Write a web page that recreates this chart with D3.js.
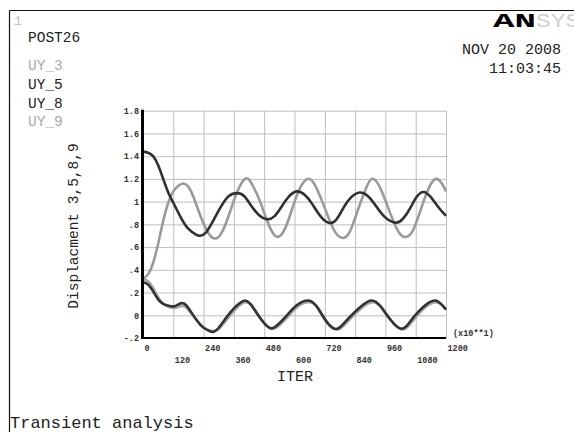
<!DOCTYPE html>
<html>
<head>
<meta charset="utf-8">
<script src="https://cdn.jsdelivr.net/npm/d3@7"></script>
<style>
  html, body { margin: 0; padding: 0; background: #fff; }
  svg { display: block; }
  text { font-family: "Liberation Mono", "Courier New", monospace; }
</style>
</head>
<body>
<svg id="chart" width="574" height="432"></svg>
<script>
// ---- data ----
const xTicks = [0, 120, 240, 360, 480, 600, 720, 840, 960, 1080, 1200];
const yTicks = [-0.2, 0, 0.2, 0.4, 0.6, 0.8, 1.0, 1.2, 1.4, 1.6, 1.8];
const yTickLabels = ["-.2", "0", ".2", ".4", ".6", ".8", "1", "1.2", "1.4", "1.6", "1.8"];
const legendNames = ["UY_3", "UY_5", "UY_8", "UY_9"];

// [iteration, displacement]
const uy3 = [[0,0.32],[20,0.36],[40,0.46],[60,0.63],[80,0.83],[100,0.99],[120,1.09],[140,1.14],[160,1.16],[180,1.13],[200,1.04],[230,0.86],[260,0.72],[285,0.675],[310,0.72],[340,0.88],[370,1.07],[404,1.20],[430,1.16],[460,1.02],[490,0.84],[510,0.74],[533,0.69],[563,0.765],[592,0.945],[622,1.12],[652,1.20],[680,1.15],[710,1.00],[740,0.83],[765,0.72],[793,0.68],[820,0.74],[850,0.92],[880,1.10],[906,1.20],[935,1.14],[965,0.98],[995,0.81],[1020,0.71],[1044,0.69],[1070,0.75],[1100,0.93],[1130,1.11],[1160,1.20],[1185,1.155],[1200,1.09]];
const uy5 = [[0,1.44],[20,1.43],[40,1.40],[60,1.32],[80,1.20],[100,1.08],[120,0.99],[150,0.86],[180,0.76],[210,0.71],[226,0.70],[250,0.73],[280,0.84],[310,0.96],[340,1.05],[371,1.075],[400,1.05],[430,0.96],[460,0.88],[490,0.845],[520,0.87],[550,0.96],[580,1.05],[609,1.09],[640,1.06],[670,0.98],[700,0.88],[733,0.815],[765,0.84],[795,0.95],[825,1.04],[859,1.08],[890,1.05],[920,0.97],[955,0.87],[998,0.815],[1030,0.85],[1060,0.95],[1080,1.03],[1109,1.085],[1140,1.04],[1170,0.95],[1200,0.875]];
const uy8 = [[0,0.29],[20,0.27],[40,0.21],[60,0.14],[80,0.10],[100,0.085],[125,0.08],[150,0.105],[170,0.09],[190,0.03],[215,-0.05],[240,-0.11],[265,-0.14],[280,-0.145],[300,-0.11],[330,-0.02],[360,0.06],[385,0.11],[404,0.13],[425,0.10],[450,0.02],[480,-0.07],[510,-0.115],[540,-0.07],[570,0.00],[610,0.09],[655,0.13],[690,0.07],[728,-0.06],[767,-0.12],[800,-0.06],[835,0.02],[870,0.09],[906,0.13],[940,0.08],[980,-0.04],[1025,-0.12],[1060,-0.05],[1090,0.03],[1125,0.10],[1157,0.13],[1180,0.10],[1200,0.05]];
const uy9 = [[0,0.32],[20,0.30],[40,0.24],[60,0.16],[80,0.10],[100,0.075],[125,0.065],[150,0.08],[170,0.07],[190,0.02],[215,-0.05],[240,-0.11],[265,-0.135],[285,-0.14],[305,-0.11],[335,-0.03],[365,0.05],[390,0.10],[408,0.115],[430,0.09],[455,0.01],[485,-0.08],[515,-0.12],[545,-0.08],[575,-0.01],[615,0.08],[660,0.115],[695,0.06],[733,-0.07],[772,-0.125],[805,-0.07],[840,0.01],[875,0.08],[910,0.115],[945,0.07],[985,-0.05],[1030,-0.125],[1065,-0.06],[1095,0.02],[1130,0.09],[1160,0.115],[1185,0.09],[1200,0.05]];

// ---- drawing ----
const svg = d3.select("#chart");
const L = 143, R = 446, T = 110.7, B = 338;
const x = d3.scaleLinear().domain([0, 1200]).range([L, R]);
const y = d3.scaleLinear().domain([-0.2, 1.8]).range([B, T]);

// frame
svg.append("line").attr("x1", 9.5).attr("y1", 10.5).attr("x2", 574).attr("y2", 10.5).attr("stroke", "#111").attr("stroke-width", 1.2);
svg.append("line").attr("x1", 9.5).attr("y1", 10.5).attr("x2", 9.5).attr("y2", 432).attr("stroke", "#111").attr("stroke-width", 1.2);

// grid
const gx = svg.append("g").attr("transform", `translate(0,${B})`)
  .call(d3.axisBottom(x).tickValues(xTicks).tickSize(-(B - T)).tickFormat(""));
gx.select(".domain").remove();
gx.selectAll("line").attr("stroke", "#bdbdbd").attr("stroke-width", 1);
const gy = svg.append("g").attr("transform", `translate(${L},0)`)
  .call(d3.axisLeft(y).tickValues(yTicks).tickSize(-(R - L)).tickFormat(""));
gy.select(".domain").remove();
gy.selectAll("line").attr("stroke", "#bdbdbd").attr("stroke-width", 1);

// axes with labels
const ax = svg.append("g").attr("transform", `translate(0,${B})`)
  .call(d3.axisBottom(x).tickValues(xTicks).tickSize(0).tickPadding(0).tickFormat(d3.format("d")));
ax.select(".domain").remove();
ax.selectAll("text")
  .attr("text-anchor", "start")
  .attr("dx", 1)
  .attr("y", (d, i) => i % 2 === 0 ? 13 : 25)
  .attr("dy", 0)
  .attr("font-family", "Liberation Mono, monospace")
  .attr("font-size", 8.5).attr("font-weight", "bold").attr("fill", "#333");

const ay = svg.append("g").attr("transform", `translate(${L - 4},0)`)
  .call(d3.axisLeft(y).tickValues(yTicks).tickSize(0).tickPadding(0)
    .tickFormat((d, i) => yTickLabels[i]));
ay.select(".domain").remove();
ay.selectAll("text")
  .attr("font-family", "Liberation Mono, monospace")
  .attr("font-size", 8.5).attr("font-weight", "bold").attr("fill", "#333");

// series
const line = d3.line().x(d => x(d[0])).y(d => y(d[1])).curve(d3.curveNatural);
const series = [
  { data: uy9, color: "#a8a8a8" },
  { data: uy3, color: "#9a9a9a" },
  { data: uy8, color: "#333333" },
  { data: uy5, color: "#303030" }
];
svg.append("g").selectAll("path").data(series).join("path")
  .attr("d", s => line(s.data))
  .attr("fill", "none")
  .attr("stroke", s => s.color)
  .attr("stroke-width", 2.6)
  .attr("stroke-linejoin", "round");

// axis lines
svg.append("line").attr("x1", L - 0.5).attr("x2", L - 0.5).attr("y1", T - 1).attr("y2", B + 1)
  .attr("stroke", "#000").attr("stroke-width", 3);
svg.append("line").attr("x1", L - 1).attr("x2", R).attr("y1", B).attr("y2", B)
  .attr("stroke", "#000").attr("stroke-width", 2);

// texts
svg.append("text").attr("x", 453).attr("y", 336).attr("font-size", 8.5).attr("font-weight", "bold").attr("fill", "#333").text("(x10**1)");
svg.append("text").attr("x", 295).attr("y", 381).attr("text-anchor", "middle").attr("font-size", 15).attr("fill", "#222").text("ITER");
svg.append("text").attr("transform", "translate(78,226) rotate(-90)").attr("text-anchor", "middle")
  .attr("font-size", 14.5).attr("fill", "#222").text("Displacment 3,5,8,9");

svg.append("text").attr("x", 14).attr("y", 25).attr("font-size", 13).attr("fill", "#c4c4c4").text("1");
svg.append("text").attr("x", 28).attr("y", 42).attr("font-size", 14.5).attr("fill", "#222").text("POST26");
const legendColors = ["#a9a9a9", "#222", "#222", "#a9a9a9"];
const legendY = [70, 89, 108, 126];
svg.append("g").selectAll("text").data(legendNames).join("text")
  .attr("x", 28).attr("y", (d, i) => legendY[i])
  .attr("font-size", 14.5).attr("fill", (d, i) => legendColors[i]).text(d => d);

svg.append("text").attr("x", 561).attr("y", 54).attr("text-anchor", "end").attr("font-size", 15).attr("fill", "#222").text("NOV 20 2008");
svg.append("text").attr("x", 561).attr("y", 73).attr("text-anchor", "end").attr("font-size", 15).attr("fill", "#222").text("11:03:45");
svg.append("text").attr("x", 10).attr("y", 428).attr("font-size", 17).attr("fill", "#222").text("Transient analysis");

// logo
svg.append("text").attr("x", 493).attr("y", 27).attr("font-family", "Liberation Sans, Arial, sans-serif")
  .attr("font-size", 20).attr("font-weight", "900").attr("fill", "#000")
  .attr("textLength", 43).attr("lengthAdjust", "spacingAndGlyphs").text("AN");
svg.append("text").attr("x", 536).attr("y", 27).attr("font-family", "Liberation Serif, serif")
  .attr("font-size", 20).attr("fill", "#d0d0d0")
  .attr("textLength", 44).attr("lengthAdjust", "spacingAndGlyphs").text("SYS");
</script>
</body>
</html>
